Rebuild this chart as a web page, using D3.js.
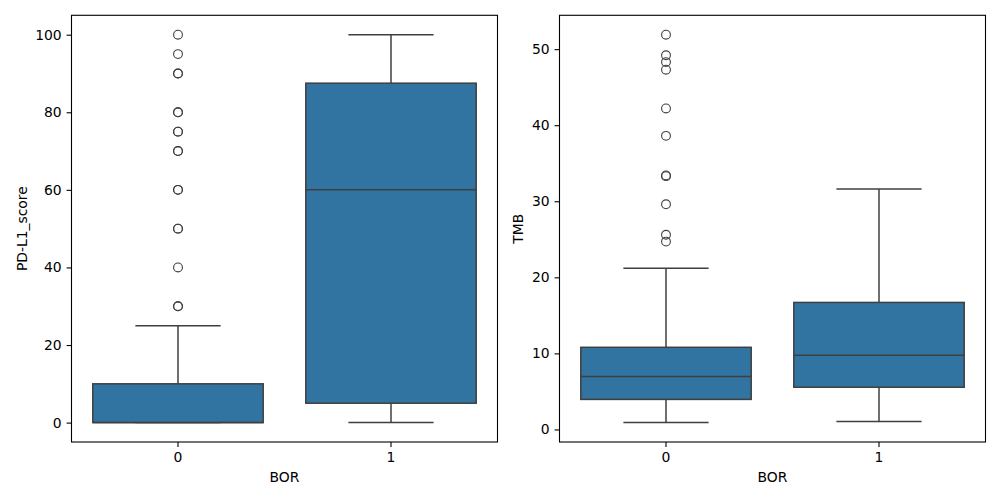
<!DOCTYPE html>
<html>
<head>
  <meta charset="utf-8">
  <title>PD-L1 score and TMB by BOR</title>
  <script src="https://cdn.jsdelivr.net/npm/d3@7"></script>
  <style>
    body { margin: 0; background: #fff; }
    svg { display: block; }
    text { font-family: "DejaVu Sans", sans-serif; fill: #000; }
    .tick line { stroke: #000; stroke-width: 1.1; }
    .tick text { font-size: 13.9px; }
  </style>
</head>
<body>
<script>
// categories on the x axis
var groups = ["0", "1"];

// PD-L1_score box stats per group
var pdl1Q1 = [0, 5];
var pdl1Median = [0, 60];
var pdl1Q3 = [10, 87.5];
var pdl1WhiskerLow = [0, 0];
var pdl1WhiskerHigh = [25, 100];
var pdl1Outliers0 = [30, 30, 40, 50, 50, 60, 60, 70, 70, 75, 75, 80, 80, 90, 90, 95, 100];
var pdl1Outliers1 = [];
var pdl1Ticks = [0, 20, 40, 60, 80, 100];

// TMB box stats per group
var tmbQ1 = [3.95, 5.55];
var tmbMedian = [6.97, 9.74];
var tmbQ3 = [10.8, 16.7];
var tmbWhiskerLow = [0.9, 1.05];
var tmbWhiskerHigh = [21.2, 31.6];
var tmbOutliers0 = [24.7, 25.6, 29.6, 33.3, 33.4, 38.6, 42.2, 47.3, 48.3, 49.2, 51.9];
var tmbOutliers1 = [];
var tmbTicks = [0, 10, 20, 30, 40, 50];

var boxFill = "#3274a1",
    lineColor = "#3f3f3f";

var svg = d3.select("body").append("svg")
    .attr("width", 1000)
    .attr("height", 500);

function buildStats(q1, med, q3, lo, hi, outs) {
  return groups.map(function(g, i) {
    return {group: g, q1: q1[i], median: med[i], q3: q3[i],
            lo: lo[i], hi: hi[i], outliers: outs[i]};
  });
}

function drawPanel(opts) {
  var left = opts.left, right = opts.right, top = 15.3, bottom = 442;
  var stats = opts.stats;

  // y domain: data range padded 5% like matplotlib
  var allVals = [];
  stats.forEach(function(s) {
    allVals.push(s.lo, s.hi);
    allVals = allVals.concat(s.outliers);
  });
  var mn = d3.min(allVals), mx = d3.max(allVals), pad = (mx - mn) * 0.05;

  var y = d3.scaleLinear().domain([mn - pad, mx + pad]).range([bottom, top]);
  var x = d3.scaleBand().domain(groups).range([left, right]).padding(0);

  var g = svg.append("g");
  var bw = x.bandwidth() * 0.8;

  var box = g.selectAll(".box").data(stats).enter().append("g").attr("class", "box");

  // whiskers
  box.append("line")
      .attr("x1", function(d) { return x(d.group) + x.bandwidth() / 2; })
      .attr("x2", function(d) { return x(d.group) + x.bandwidth() / 2; })
      .attr("y1", function(d) { return y(d.q3); })
      .attr("y2", function(d) { return y(d.hi); })
      .attr("stroke", lineColor).attr("stroke-width", 1.5);
  box.append("line")
      .attr("x1", function(d) { return x(d.group) + x.bandwidth() / 2; })
      .attr("x2", function(d) { return x(d.group) + x.bandwidth() / 2; })
      .attr("y1", function(d) { return y(d.q1); })
      .attr("y2", function(d) { return y(d.lo); })
      .attr("stroke", lineColor).attr("stroke-width", 1.5);
  // caps
  [["hi"], ["lo"]].forEach(function(k) {
    box.append("line")
        .attr("x1", function(d) { return x(d.group) + x.bandwidth() / 2 - bw / 4; })
        .attr("x2", function(d) { return x(d.group) + x.bandwidth() / 2 + bw / 4; })
        .attr("y1", function(d) { return y(d[k[0]]); })
        .attr("y2", function(d) { return y(d[k[0]]); })
        .attr("stroke", lineColor).attr("stroke-width", 1.5);
  });

  // boxes
  box.append("rect")
      .attr("x", function(d) { return x(d.group) + (x.bandwidth() - bw) / 2; })
      .attr("width", bw)
      .attr("y", function(d) { return y(d.q3); })
      .attr("height", function(d) { return y(d.q1) - y(d.q3); })
      .attr("fill", boxFill)
      .attr("stroke", lineColor).attr("stroke-width", 1.5);

  // median
  box.append("line")
      .attr("x1", function(d) { return x(d.group) + (x.bandwidth() - bw) / 2; })
      .attr("x2", function(d) { return x(d.group) + (x.bandwidth() + bw) / 2; })
      .attr("y1", function(d) { return y(d.median); })
      .attr("y2", function(d) { return y(d.median); })
      .attr("stroke", lineColor).attr("stroke-width", 1.5);

  // outliers
  box.each(function(d) {
    d3.select(this).selectAll("circle").data(d.outliers).enter().append("circle")
        .attr("cx", x(d.group) + x.bandwidth() / 2)
        .attr("cy", function(v) { return y(v); })
        .attr("r", 4.4)
        .attr("fill", "none")
        .attr("stroke", lineColor).attr("stroke-width", 1.1);
  });

  // axes
  g.append("g")
      .attr("transform", "translate(" + left + ",0)")
      .call(d3.axisLeft(y).tickValues(opts.ticks).tickSize(4.9).tickPadding(4.9).tickFormat(d3.format("d")))
      .call(function(a) { a.select(".domain").remove(); });
  g.append("g")
      .attr("transform", "translate(0," + bottom + ")")
      .call(d3.axisBottom(x).tickSize(4.9).tickPadding(4.9))
      .call(function(a) { a.select(".domain").remove(); });

  g.selectAll(".tick text").attr("font-family", "DejaVu Sans");

  // frame
  g.append("rect")
      .attr("x", left).attr("y", top)
      .attr("width", right - left).attr("height", bottom - top)
      .attr("fill", "none").attr("stroke", "#000").attr("stroke-width", 1.1);

  // labels
  g.append("text")
      .attr("x", (left + right) / 2).attr("y", 482)
      .attr("text-anchor", "middle")
      .style("font-size", "13.9px")
      .text("BOR");
  g.append("text")
      .attr("transform", "translate(" + opts.ylabelX + "," + (top + bottom) / 2 + ") rotate(-90)")
      .attr("text-anchor", "middle")
      .style("font-size", "13.9px")
      .text(opts.ylabel);
}

drawPanel({
  left: 71.5, right: 497.5, ylabelX: 26.5, ylabel: "PD-L1_score", ticks: pdl1Ticks,
  stats: buildStats(pdl1Q1, pdl1Median, pdl1Q3, pdl1WhiskerLow, pdl1WhiskerHigh, [pdl1Outliers0, pdl1Outliers1])
});
drawPanel({
  left: 559.5, right: 985.5, ylabelX: 522.5, ylabel: "TMB", ticks: tmbTicks,
  stats: buildStats(tmbQ1, tmbMedian, tmbQ3, tmbWhiskerLow, tmbWhiskerHigh, [tmbOutliers0, tmbOutliers1])
});
</script>
</body>
</html>
